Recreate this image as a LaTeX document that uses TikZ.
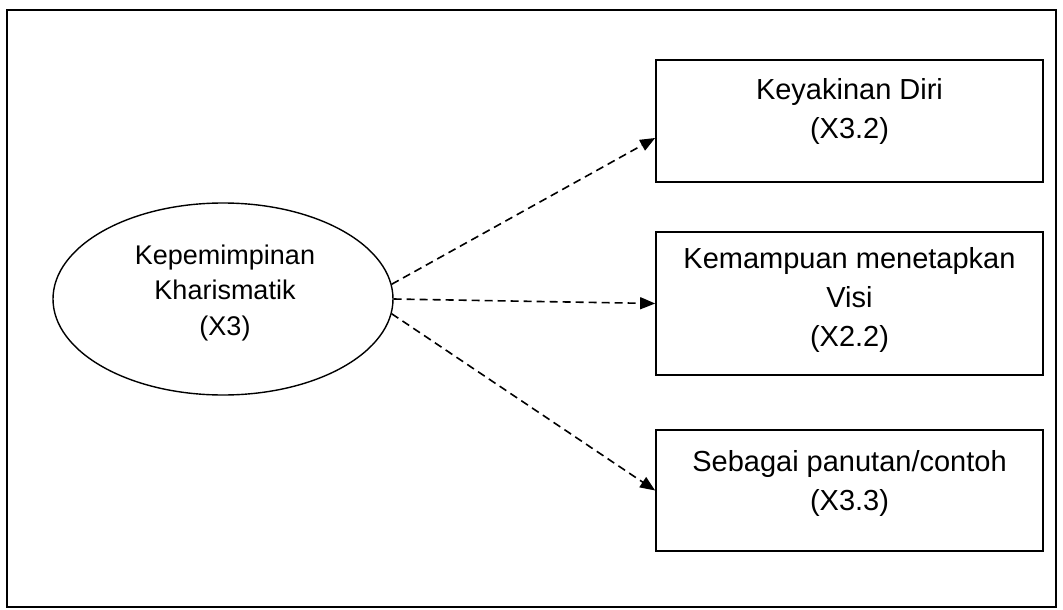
\documentclass[tikz,border=0pt]{standalone}
\usepackage{fontspec}
\setmainfont{Liberation Sans}
\usetikzlibrary{arrows.meta,shapes.geometric,calc}
\begin{document}
\begin{tikzpicture}[x=1pt,y=-1pt,
  outerframe/.style={draw, line width=1.8pt},
  varbox/.style={draw, line width=1.7pt, minimum width=387pt, inner sep=0pt},
  latent/.style={draw, ellipse, line width=1.4pt, minimum width=340pt, minimum height=192pt, inner sep=0pt},
  boxlabel/.style={align=center, font=\fontsize{29}{39}\selectfont, inner sep=0pt},
  ellipselabel/.style={align=center, font=\fontsize{27}{35.5}\selectfont, inner sep=0pt},
  link/.style={line width=1.6pt, dash pattern=on 8pt off 5pt, -{Triangle[length=15pt,width=12pt]}},
]
\useasboundingbox (0,0) rectangle (1063,610);
\draw[outerframe] (7,10) rectangle (1056,607);

% latent variable
\node[latent] (ell) at (223,299) {};
\node[ellipselabel] (ellt) at (225,293) {Kepemimpinan\\Kharismatik\\(X3)};

% indicators
\node[varbox, minimum height=122pt] (b1) at (849.5,121) {};
\node[boxlabel] (b1t) at (849.5,111) {Keyakinan Diri\\(X3.2)};

\node[varbox, minimum height=143pt] (b2) at (849.5,303.5) {};
\node[boxlabel] (b2t) at (849.5,300) {Kemampuan menetapkan\\Visi\\(X2.2)};

\node[varbox, minimum height=121pt] (b3) at (849.5,490.5) {};
\node[boxlabel] (b3t) at (849.5,483) {Sebagai panutan/contoh\\(X3.3)};

% arrow targets on the left sides of the boxes
\coordinate (t1) at ($(b1.west)+(0,17)$);

\draw[link] (ell.5) -- (t1);
\draw[link] (ell.east) -- (b2.west);
\draw[link] (ell.-5) -- (b3.west);
\end{tikzpicture}
\end{document}
